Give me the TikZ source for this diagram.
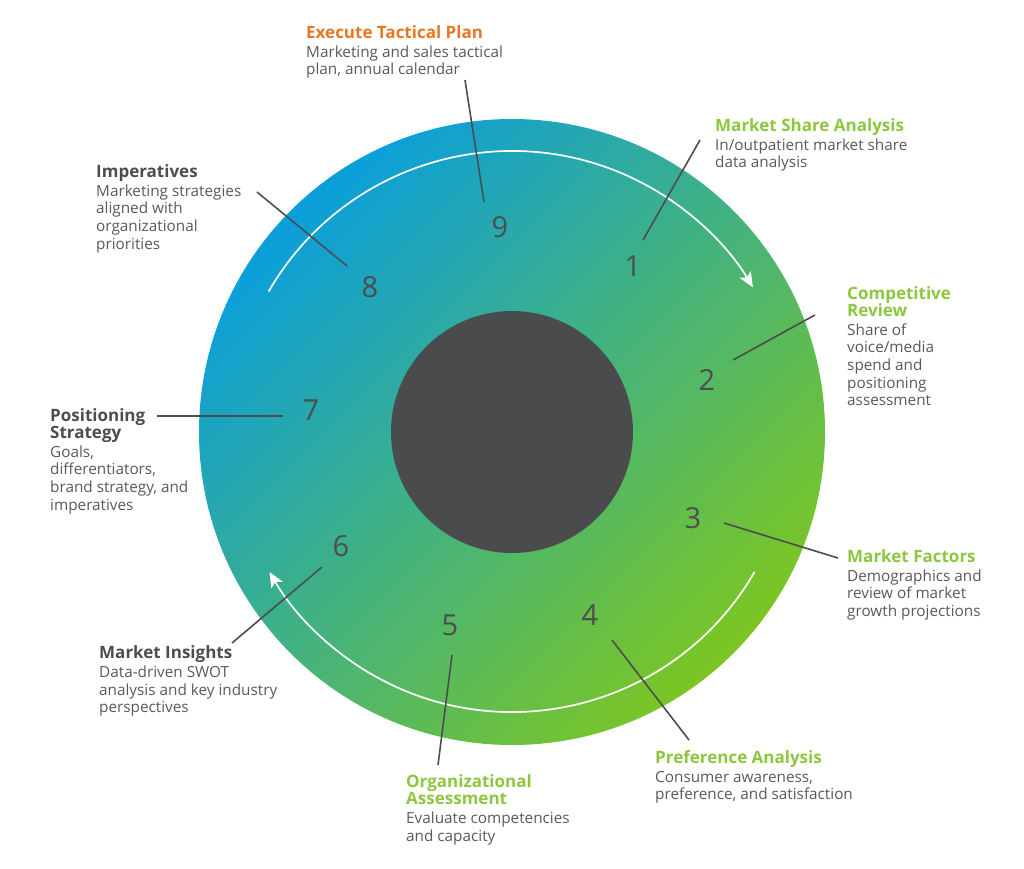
\documentclass[tikz,border=0pt]{standalone}
\usepackage{fontspec}
\setmainfont{Open Sans}
\usetikzlibrary{arrows.meta}
\definecolor{cblue}{HTML}{0A9EDC}
\definecolor{cgreen}{HTML}{7CC623}
\definecolor{cdark}{HTML}{4A4B4D}
\definecolor{ctext}{HTML}{58595B}
\definecolor{corange}{HTML}{E87722}
\definecolor{clgreen}{HTML}{8DC63F}
\definecolor{cnum}{HTML}{4D4D4F}
\tikzset{
  label/.style={anchor=north west, inner sep=0pt, align=left, text=ctext,
    font=\fontsize{15.3}{17.6}\selectfont},
  num/.style={text=cnum, font=\fontsize{29}{30}\selectfont, inner sep=0pt},
  leader/.style={draw=cnum, line width=1.6pt},
  flow/.style={draw=white, line width=1.7pt},
}
\newcommand{\hd}[2]{\rule{0pt}{12pt}{\color{#1}\bfseries\fontsize{17}{17.6}\selectfont #2}}
\begin{document}
\begin{tikzpicture}[x=1pt,y=-1pt]
\useasboundingbox (0,0) rectangle (1024,868);
% big circle
\shade[top color=cblue, bottom color=cgreen, shading angle=45] (512,432) circle[radius=313];
\fill[cdark] (512,432) circle[radius=121];
% flow arcs
\begin{scope}[shift={(512,432)}, y=1pt]
\draw[flow, -{Stealth[length=15pt,width=13pt,inset=3.5pt]}] (150:281) arc[start angle=150, end angle=31, radius=281];
\draw[flow, -{Stealth[length=15pt,width=13pt,inset=3.5pt]}] (-30:280) arc[start angle=-30, end angle=-150, radius=280];
\end{scope}
% numbers
\node[num] (n9) at (500,227) {9};
\node[num] (n1) at (633,266) {1};
\node[num] (n2) at (707,380) {2};
\node[num] (n3) at (693,518) {3};
\node[num] (n4) at (590,615) {4};
\node[num] (n5) at (450,625) {5};
\node[num] (n6) at (341,546) {6};
\node[num] (n7) at (311,410) {7};
\node[num] (n8) at (370,287) {8};
% labels
\node[label] (t9) at (306,25) {\hd{corange}{Execute Tactical Plan}\\[1.5pt]Marketing and sales tactical\\plan, annual calendar};
\node[label] (t1) at (715,118) {\hd{clgreen}{Market Share Analysis}\\[1.5pt]In/outpatient market share\\data analysis};
\node[label] (t8) at (96,164) {\hd{cnum}{Imperatives}\\[1.5pt]Marketing strategies\\aligned with\\organizational\\priorities};
\node[label] (t2) at (847,286) {\hd{clgreen}{Competitive}\\\hd{clgreen}{Review}\\[1pt]Share of\\voice/media\\spend and\\positioning\\assessment};
\node[label] (t7) at (50,408) {\hd{cnum}{Positioning}\\\hd{cnum}{Strategy}\\[1pt]Goals,\\differentiators,\\brand strategy, and\\imperatives};
\node[label] (t3) at (847,549) {\hd{clgreen}{Market Factors}\\[1.5pt]Demographics and\\review of market\\growth projections};
\node[label] (t6) at (99,645) {\hd{cnum}{Market Insights}\\[2pt]Data-driven SWOT\\analysis and key industry\\perspectives};
\node[label] (t5) at (406,774) {\hd{clgreen}{Organizational}\\\hd{clgreen}{Assessment}\\[1.5pt]Evaluate competencies\\and capacity};
\node[label] (t4) at (655,750) {\hd{clgreen}{Preference Analysis}\\[1.5pt]Consumer awareness,\\preference, and satisfaction};
% leader line ends
\coordinate (a9) at (465,80);  \coordinate (b9) at (484,202);
\coordinate (a1) at (700,140); \coordinate (b1) at (643,240);
\coordinate (a2) at (815,315); \coordinate (b2) at (733,360);
\coordinate (a3) at (838,558); \coordinate (b3) at (724,523);
\coordinate (a4) at (689,740); \coordinate (b4) at (612,640);
\coordinate (a5) at (438,765); \coordinate (b5) at (452,655);
\coordinate (a6) at (232,643); \coordinate (b6) at (322,567);
\coordinate (a7) at (157,416); \coordinate (b7) at (283,416);
\coordinate (a8) at (257,192); \coordinate (b8) at (347,266);
\foreach \i in {1,...,9} {\draw[leader] (a\i) -- (b\i);}
\end{tikzpicture}
\end{document}
